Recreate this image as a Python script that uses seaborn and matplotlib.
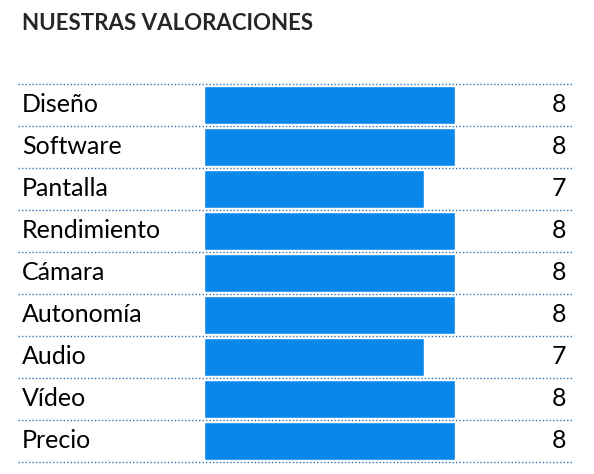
import matplotlib
matplotlib.use("Agg")
import matplotlib.pyplot as plt
import seaborn as sns
import pandas as pd
from matplotlib.transforms import blended_transform_factory

categories = ["Diseño", "Software", "Pantalla", "Rendimiento", "Cámara",
              "Autonomía", "Audio", "Vídeo", "Precio"]
values = [8, 8, 7, 8, 8, 8, 7, 8, 8]
title = "NUESTRAS VALORACIONES"

sns.set_style("white")
plt.rcParams['font.family'] = ['Lato', 'DejaVu Sans']

W, H = 594, 474
fig = plt.figure(figsize=(W/100, H/100), dpi=100)
top, bottom = 84, 462
ax = fig.add_axes([204/W, 1-bottom/H, (455-204)/W, (bottom-top)/H])
df = pd.DataFrame({"cat": categories, "val": values})
sns.barplot(data=df, x="val", y="cat", orient="h", color="#0a87ea",
            saturation=1, width=0.9, ax=ax)
ax.set_xlim(0, 8)
ax.set_ylim(len(categories)-0.5, -0.5)
ax.axis("off")

tr = blended_transform_factory(fig.transFigure, ax.transData)
for i, (c, v) in enumerate(zip(categories, values)):
    ax.text(22/W, i, c, transform=tr, va="center", ha="left", fontsize=18, color="black")
    ax.text(566/W, i, str(v), transform=tr, va="center", ha="right", fontsize=18, color="black")
for k in range(len(categories)+1):
    y = k - 0.5
    ax.plot([18/W, 572/W], [y, y], transform=tr, clip_on=False,
            color="#2e75b6", lw=1, ls=(0, (1, 1.5)))

fig.text(22/W, 1-23/H, title, fontsize=16, fontweight="bold", va="center", ha="left")
fig.savefig("out.png", dpi=100)
